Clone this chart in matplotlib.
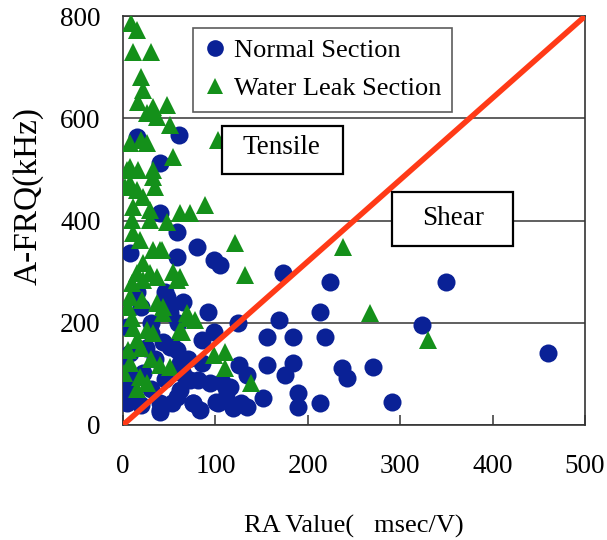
import matplotlib
matplotlib.use("Agg")
import matplotlib.pyplot as plt
from matplotlib.patches import Rectangle

normal_x = [460, 224, 350, 213, 324, 219, 237, 242, 271, 213, 291,
            80, 99, 105, 173, 92, 125, 169, 156, 184, 99, 85, 156, 184, 175, 126, 134,
            81, 62, 107, 112, 76, 103, 119, 128, 151, 189, 189, 40, 53, 5, 2,
            58, 58, 40, 8, 45, 51, 54, 8, 62, 22, 1, 61, 15, 40,
            48, 51, 4, 43, 51, 58, 1, 86, 94, 72, 1, 4, 40, 40, 58, 76, 83, 101, 112,
            116, 134, 119,
            20, 30, 15, 25, 35, 10, 30, 20, 45, 65, 70, 30, 60, 65]
normal_y = [141, 280, 280, 221, 196, 172, 111, 92, 114, 43, 45,
            348, 323, 313, 297, 221, 200, 205, 172, 172, 182, 166, 117, 121, 98, 117, 98,
            88, 68, 84, 72, 43, 43, 33, 43, 53, 63, 35, 29, 43, 55, 45,
            378, 329, 415, 336, 260, 219, 153, 141, 121, 102, 68, 567, 563, 512,
            250, 231, 192, 162, 153, 147, 127, 121, 82, 88, 55, 43, 43, 25, 55, 43, 29, 45, 55,
            74, 35, 35,
            230, 200, 260, 150, 130, 90, 70, 40, 90, 100, 130, 180, 200, 240]

leak_x = [238, 267, 330, 89, 121, 132, 110, 110, 139, 99, 70, 78, 62, 43, 62, 72, 40,
          9, 15, 11, 30, 19, 22, 16, 32, 48, 26, 37, 51, 20,
          54, 103, 8, 32, 8, 26, 4, 16, 32, 8, 35, 15, 22, 2, 11, 29, 10, 29, 48,
          11, 18, 32, 42, 22, 15, 29, 54,
          10, 22, 37, 58, 62, 8, 21, 37, 43, 69, 11, 26, 32, 15, 64, 5, 8, 40, 51,
          1, 18, 26, 15, 5, 10, 20, 30]
leak_y = [348, 219, 166, 430, 356, 293, 143, 111, 82, 137, 209, 205, 186, 231, 415, 415, 342,
          786, 773, 730, 730, 681, 655, 632, 622, 626, 610, 602, 587, 557,
          524, 557, 505, 499, 552, 552, 499, 499, 485, 473, 466, 460, 446, 466, 426, 420, 401, 401, 397,
          375, 362, 342, 342, 317, 297, 297, 299,
          278, 284, 290, 284, 290, 250, 245, 239, 219, 219, 190, 186, 180, 166, 182, 147, 121, 117, 113,
          102, 94, 82, 70, 230, 210, 150, 130]

line_x = [0, 500]
line_y = [0, 800]

x_ticks = [0, 100, 200, 300, 400, 500]
y_ticks = [0, 200, 400, 600, 800]

plt.rcParams['font.family'] = ['Liberation Serif', 'DejaVu Serif']

fig = plt.figure(figsize=(6.07, 5.40), dpi=100)
ax = fig.add_axes([0.2026, 0.213, 0.7612, 0.757])

ax.plot(normal_x, normal_y, 'o', color='#0a2196', markersize=13, markeredgewidth=0,
        label='Normal Section', zorder=3)
ax.plot(leak_x, leak_y, '^', color='#14901a', markersize=13, markeredgewidth=0,
        label='Water Leak Section', zorder=4)
ax.plot(line_x, line_y, '-', color='#ff3a17', linewidth=4.0, zorder=5)

ax.set_xlim(0, 500)
ax.set_ylim(0, 800)
ax.set_xticks(x_ticks)
ax.set_yticks(y_ticks)
ax.yaxis.grid(True, color='#444444', linewidth=1.2)
ax.set_axisbelow(True)
ax.tick_params(axis='x', direction='in', length=7, width=1.2, pad=21, labelsize=19.5, color='#444444')
ax.tick_params(axis='y', length=0, pad=16, labelsize=19.5)
for s in ax.spines.values():
    s.set_color('#333333')
    s.set_linewidth(1.2)

ax.set_xlabel('RA Value(   msec/V)', fontsize=19, labelpad=26)
ax.set_ylabel('A-FRQ(kHz)', fontsize=24)
ax.yaxis.set_label_coords(-0.172, 0.56)

leg = ax.legend(loc='upper left', bbox_to_anchor=(0.152, 0.972), fontsize=19,
                frameon=True, fancybox=False, edgecolor='#333333', handletextpad=0.3,
                handlelength=0.8, borderpad=0.43, labelspacing=0.55, borderaxespad=0)
leg.get_frame().set_linewidth(1.2)
for h in leg.legend_handles:
    h.set_markersize(12)

for (x0, y0, x1, y1) in [(0.214, 0.614, 0.476, 0.731), (0.582, 0.438, 0.844, 0.570)]:
    ax.add_patch(Rectangle((x0, y0), x1 - x0, y1 - y0, transform=ax.transAxes,
                           facecolor='white', edgecolor='black', linewidth=1.6, zorder=6))
ax.text(0.344, 0.679, 'Tensile', transform=ax.transAxes, fontsize=19.5,
        ha='center', va='center', zorder=7)
ax.text(0.714, 0.506, 'Shear', transform=ax.transAxes, fontsize=19.5,
        ha='center', va='center', zorder=7)

fig.savefig('out.png', dpi=100)
